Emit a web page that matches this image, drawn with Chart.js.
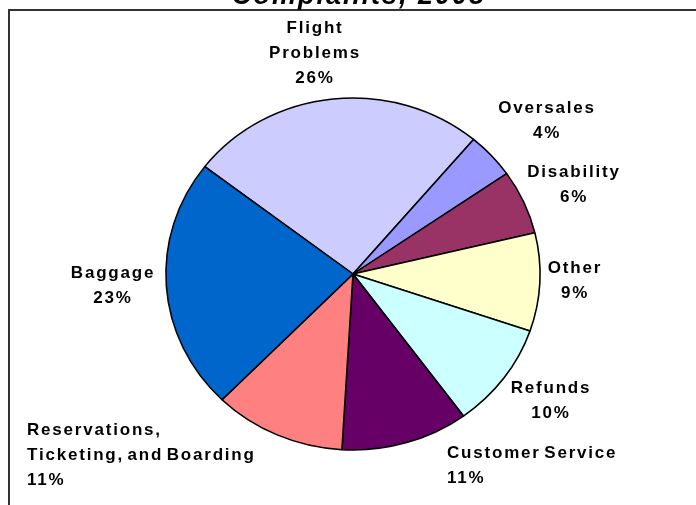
<!DOCTYPE html>
<html>
<head>
<meta charset="utf-8">
<title>Complaints, 2008</title>
<script src="https://cdn.jsdelivr.net/npm/chart.js@4.4.1/dist/chart.umd.min.js"></script>
<style>
  html, body { margin: 0; padding: 0; background: #fff; }
  #pie { display: block; }
</style>
</head>
<body>
<canvas id="pie" width="696" height="505"></canvas>
<script>
// share of complaints, percent
const categories = [
  "Flight Problems",
  "Oversales",
  "Disability",
  "Other",
  "Refunds",
  "Customer Service",
  "Reservations, Ticketing, and Boarding",
  "Baggage",
];
const shares = [25.7, 4.2, 5.9, 9.0, 9.7, 11.0, 11.4, 23.1];
const labelLines = [
  ["Flight", "Problems"],
  ["Oversales"],
  ["Disability"],
  ["Other"],
  ["Refunds"],
  ["Customer Service"],
  ["Reservations,", "Ticketing, and Boarding"],
  ["Baggage"],
];
const sliceColors = [
  "#CCCCFF", "#9999FF", "#993366", "#FFFFCC",
  "#CCFFFF", "#660066", "#FF8080", "#0066CC",
];

// where each data label sits, relative to the pie centre (px), and its alignment
const LABEL_LAYOUT = [
  { dx: -38, dy: -246, align: "center" },
  { dx: 194, dy: -166, align: "center" },
  { dx: 221, dy: -102, align: "center" },
  { dx: 222, dy: -6, align: "center" },
  { dx: 198, dy: 114, align: "center" },
  { dx: 94, dy: 179, align: "left" },
  { dx: -326, dy: 156, align: "left" },
  { dx: -240, dy: -1, align: "center" },
];
const LINE_HEIGHT = 25;
const STRETCH_X = 1.063; // the original pie is a touch wider than tall

const total = shares.reduce((a, b) => a + b, 0);

function pct(v) {
  return Math.round((v / total) * 100) + "%";
}

const ellipsePlugin = {
  id: "ellipse",
  beforeDatasetsDraw(chart) {
    const arc = chart.getDatasetMeta(0).data[0];
    const ctx = chart.ctx;
    ctx.save();
    ctx.translate(arc.x, arc.y);
    ctx.scale(STRETCH_X, 1);
    ctx.translate(-arc.x, -arc.y);
  },
  afterDatasetsDraw(chart) {
    chart.ctx.restore();
  },
};

const decorPlugin = {
  id: "decor",
  beforeDraw(chart) {
    const ctx = chart.ctx;
    ctx.save();
    ctx.fillStyle = "#fff";
    ctx.fillRect(0, 0, chart.width, chart.height);
    ctx.restore();
  },
  afterDraw(chart) {
    const ctx = chart.ctx;
    const meta = chart.getDatasetMeta(0);
    const cx = meta.data[0].x;
    const cy = meta.data[0].y;

    ctx.save();
    // frame (only top and left edges show)
    ctx.strokeStyle = "#333";
    ctx.lineWidth = 2;
    ctx.beginPath();
    ctx.moveTo(9, chart.height);
    ctx.lineTo(9, 10);
    ctx.lineTo(chart.width, 10);
    ctx.stroke();

    // title, mostly cut off at the top
    ctx.fillStyle = "#000";
    ctx.font = "bold italic 27px 'Liberation Sans', Arial, sans-serif";
    ctx.letterSpacing = "2px";
    ctx.textAlign = "center";
    ctx.textBaseline = "alphabetic";
    ctx.fillText("Complaints, 2008", 359, 4);

    // data labels
    ctx.font = "bold 17px 'Liberation Sans', Arial, sans-serif";
    ctx.letterSpacing = "1.8px";
    ctx.wordSpacing = "-3px";
    ctx.textBaseline = "middle";
    meta.data.forEach((arc, i) => {
      const lay = LABEL_LAYOUT[i];
      const lines = labelLines[i].concat([pct(shares[i])]);
      ctx.textAlign = lay.align;
      lines.forEach((line, j) => {
        ctx.fillText(line, cx + lay.dx, cy + lay.dy + j * LINE_HEIGHT);
      });
    });
    ctx.restore();
  },
};

new Chart(document.getElementById("pie"), {
  type: "pie",
  data: {
    labels: categories,
    datasets: [{
      data: shares,
      backgroundColor: sliceColors,
      borderColor: "#000",
      borderWidth: 1.5,
    }],
  },
  options: {
    responsive: false,
    animation: false,
    devicePixelRatio: 1,
    rotation: -52.4,
    radius: 176,
    layout: { padding: { left: 10, right: 0, top: 43, bottom: 0 } },
    plugins: {
      legend: { display: false },
      title: { display: false },
      tooltip: { enabled: false },
    },
  },
  plugins: [ellipsePlugin, decorPlugin],
});
</script>
</body>
</html>
